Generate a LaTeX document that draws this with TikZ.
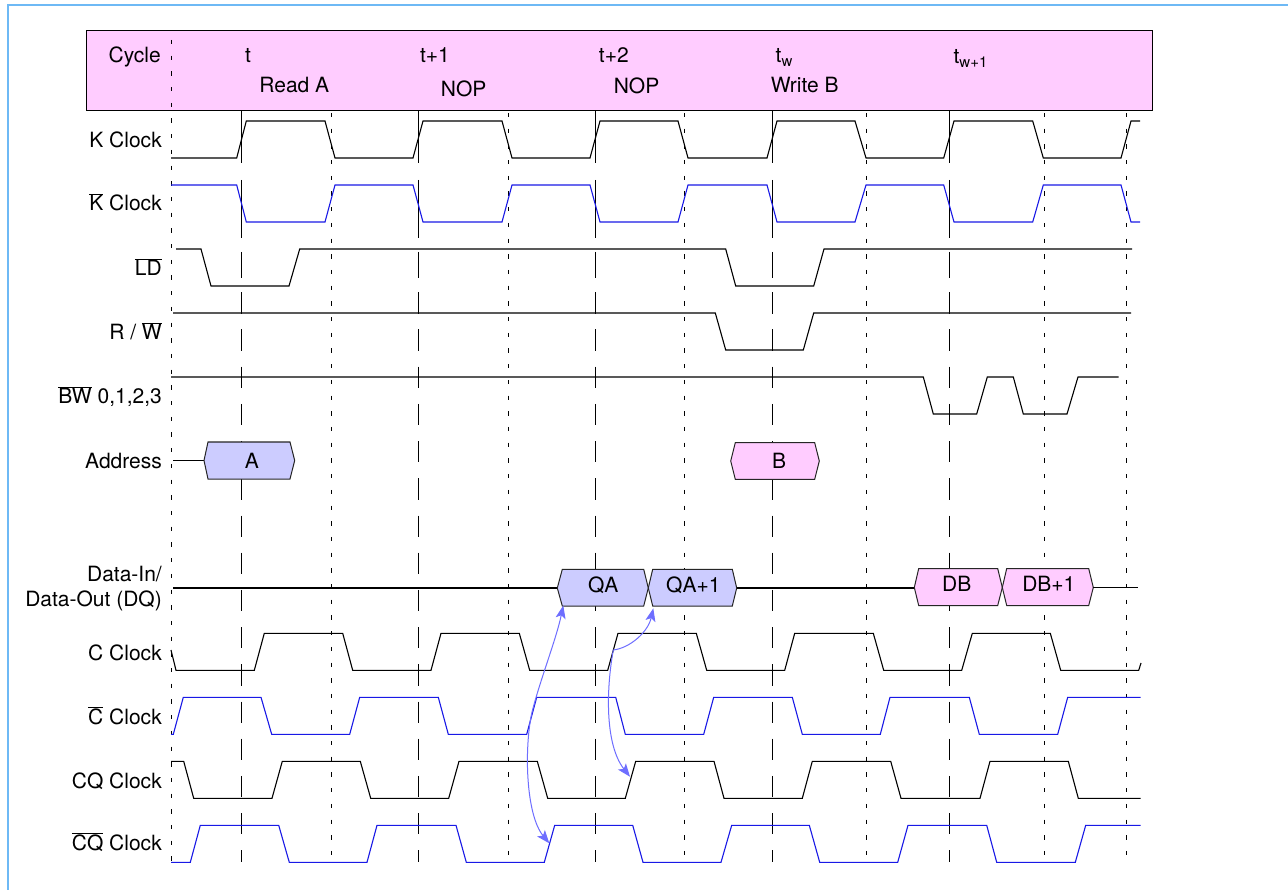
\documentclass[tikz,border=0pt]{standalone}
\usepackage{fontspec}
\setmainfont{TeX Gyre Heros}
\usetikzlibrary{arrows.meta}
\definecolor{frameblue}{RGB}{110,185,245}
\definecolor{hdrpink}{RGB}{255,204,255}
\definecolor{buslav}{RGB}{204,204,255}
\definecolor{sigblue}{RGB}{25,25,230}
\definecolor{arrowblue}{RGB}{110,110,255}
\newcommand{\ovl}[1]{$\overline{\mbox{#1}}$}
\newcommand{\subw}[1]{\raisebox{-4pt}{\fontsize{15}{15}\selectfont #1}}
\begin{document}
\begin{tikzpicture}[x=1pt,y=-1pt,
  lbl/.style={anchor=base east,inner sep=0pt,font=\fontsize{21}{24.5}\selectfont},
  txt/.style={anchor=base,inner sep=0pt,font=\fontsize{21}{24.5}\selectfont},
  sigk/.style={draw=black,line width=1.1pt},
  sigb/.style={draw=sigblue,line width=1.1pt},
  busa/.style={draw=black!85,line width=1pt,fill=buslav},
  busb/.style={draw=black!85,line width=1pt,fill=hdrpink},
  dotv/.style={black,line width=1pt,dash pattern=on 4.3pt off 11.4pt},
  longv/.style={black,line width=1pt,dash pattern=on 21.3pt off 15.9pt},
  solidv/.style={black,line width=1pt},
  causal/.style={draw=arrowblue,line width=1pt,-{Stealth[length=13pt,width=10pt,inset=3pt]}},
]
\useasboundingbox (0,0) rectangle (1288,890);
\fill[white] (0,0) rectangle (1288,890);
\draw[frameblue,line width=2pt] (7.5,890) -- (7.5,5) -- (1288,5);
\draw[fill=hdrpink,line width=1pt] (86,31) rectangle (1152,111);

% vertical reference lines
\draw[dotv] (171,40) -- (171,862);
\foreach \x in {331,508,684.7,866.3,1044.3,1126.3} \draw[dotv] (\x,113) -- (\x,862);
\foreach \x in {241,418.3,595.3,772.3,949.3} {
  \draw[solidv] (\x,111) -- (\x,163) (\x,180) -- (\x,238) (\x,252) -- (\x,278);
  \draw[longv] (\x,292.3) -- (\x,862);
}

% K Clock
\draw[sigk] (171,158) -- (236.7,158) -- (246.3,121) -- (325,121) -- (335,158) -- (413,158) -- (423,121) -- (502,121) -- (512,158) -- (590,158) -- (600,121) -- (678,121) -- (688,158) -- (767,158) -- (777,121) -- (855,121) -- (866,158) -- (943.7,158) -- (954,121) -- (1032.7,121) -- (1043.3,158) -- (1121,158) -- (1131,121) -- (1140,121);
% K bar Clock
\draw[sigb] (171,185) -- (236.7,185) -- (246.3,222) -- (325,222) -- (335,185) -- (413,185) -- (423,222) -- (502,222) -- (512,185) -- (590,185) -- (600,222) -- (678,222) -- (688,185) -- (767,185) -- (777,222) -- (855,222) -- (866,185) -- (943.7,185) -- (954,222) -- (1032.7,222) -- (1043.3,185) -- (1121,185) -- (1131,222) -- (1140,222);
% LD
\draw[sigk] (176,249) -- (201,249) -- (211,286) -- (289,286) -- (299.7,249) -- (725.7,249) -- (735.7,286) -- (813.7,286) -- (824,249) -- (1132,249);
% R/W
\draw[sigk] (173,313) -- (715.3,313) -- (725.7,350) -- (803.3,350) -- (813.7,313) -- (1131,313);
% BW
\draw[sigk] (171,377) -- (923.3,377) -- (933.3,414) -- (976.7,414) -- (987.3,377) -- (1013.3,377) -- (1023.3,414) -- (1067,414) -- (1078,377) -- (1118.7,377);

% Address bus
\draw[sigk] (173,460.5) -- (204,460.5);
\draw[busa] (204,460.5) -- (208,442) -- (290,442) -- (294.7,460.5) -- (290,479) -- (208,479) -- cycle;
\node[txt] (busA) at (252,468) {A};
\draw[busb] (730.7,461) -- (735.3,442.7) -- (814.7,442.7) -- (819.3,461) -- (814.7,479.3) -- (735.3,479.3) -- cycle;
\node[txt] (busB) at (779,468.3) {B};

% DQ bus
\draw[sigk] (173,588) -- (557.3,588);
\draw[busa] (557.3,588) -- (562.3,569.3) -- (643.7,569.3) -- (648.3,588) -- (643.7,606) -- (562.3,606) -- cycle;
\draw[busa] (648.3,588) -- (652.7,569.3) -- (732.3,569.3) -- (736.7,588) -- (732.3,606) -- (652.7,606) -- cycle;
\draw[sigk] (736.7,588) -- (914.3,588);
\draw[busb] (914.3,587.5) -- (918.7,568.5) -- (997.7,568.5) -- (1002.3,587.5) -- (997.7,605.5) -- (918.7,605.5) -- cycle;
\draw[busb] (1002.3,587.5) -- (1006.7,568.5) -- (1088.7,568.5) -- (1093.3,587.5) -- (1088.7,605.5) -- (1006.7,605.5) -- cycle;
\draw[sigk] (1093.3,587.5) -- (1138.3,587.5);
\node[txt] (qa) at (603.3,592.5) {QA};
\node[txt] (qa1) at (693.3,592.5) {QA+1};
\node[txt] (db) at (956.7,591.7) {DB};
\node[txt] (db1) at (1048.8,591.7) {DB+1};

% C Clock
\draw[sigk] (171,650) -- (176,670.3) -- (254.3,670.3) -- (264.3,633.3) -- (342.7,633.3) -- (352.7,670.3) -- (431,670.3) -- (441,633.3) -- (519.3,633.3) -- (529.7,670.3) -- (607.7,670.3) -- (618,633.3) -- (696.3,633.3) -- (706.7,670.3) -- (784.7,670.3) -- (794.7,633.3) -- (873.3,633.3) -- (883.7,670.3) -- (961.7,670.3) -- (972.3,633.3) -- (1050.3,633.3) -- (1060.7,670.3) -- (1138.7,670.3) -- (1141,663);
% C bar Clock
\draw[sigb] (171,734.3) -- (173.3,734.3) -- (183.3,697.3) -- (261,697.3) -- (271.7,734.3) -- (349.7,734.3) -- (359.7,697.3) -- (438.3,697.3) -- (448.3,734.3) -- (526.7,734.3) -- (536.7,697.3) -- (615.7,697.3) -- (625.3,734.3) -- (703.7,734.3) -- (713.7,697.3) -- (792.3,697.3) -- (802.3,734.3) -- (880.3,734.3) -- (890,697.3) -- (969.3,697.3) -- (979.3,734.3) -- (1057.7,734.3) -- (1067.7,697.3) -- (1140.7,697.3);
% CQ Clock
\draw[sigk] (171,761.3) -- (183.7,761.3) -- (193.7,798.3) -- (272,798.3) -- (282.3,761.3) -- (360.3,761.3) -- (370.7,798.3) -- (448.7,798.3) -- (459,761.3) -- (537.3,761.3) -- (547.7,798.3) -- (625.3,798.3) -- (635.7,761.3) -- (714,761.3) -- (724,798.3) -- (802.3,798.3) -- (812.3,761.3) -- (890.7,761.3) -- (901,798.3) -- (980,798.3) -- (990,761.3) -- (1068.3,761.3) -- (1078.3,798.3) -- (1140.7,798.3);
% CQ bar Clock
\draw[sigb] (171,862.3) -- (190.3,862.3) -- (200.3,825.3) -- (278.7,825.3) -- (289.3,862.3) -- (367,862.3) -- (377,825.3) -- (456,825.3) -- (466.3,862.3) -- (544.3,862.3) -- (554.7,825.3) -- (632.7,825.3) -- (643,862.3) -- (721,862.3) -- (731.7,825.3) -- (809.3,825.3) -- (819.7,862.3) -- (897.7,862.3) -- (908,825.3) -- (986.7,825.3) -- (996.7,862.3) -- (1075.3,862.3) -- (1085.7,825.3) -- (1140.7,825.3);

% causality arrows
\coordinate (j1) at (531.7,713.3);
\coordinate (qaTip) at (563.3,605.5);
\coordinate (cqbTip) at (549.3,843.3);
\coordinate (j2) at (613.3,650);
\coordinate (qa1Tip) at (653.3,608.3);
\coordinate (cqTip) at (630,776.7);
\draw[causal] (j1) .. controls (540,680) and (556,640) .. (qaTip);
\draw[causal] (j1) .. controls (524,750) and (526,815) .. (cqbTip);
\draw[causal] (j2) .. controls (630,648) and (648,632) .. (qa1Tip);
\draw[causal] (j2) .. controls (606,690) and (605,745) .. (cqTip);

% header texts
\node[lbl] (hcycle) at (161,62.5) {Cycle};
\node[txt] (ht) at (248,62.5) {t};
\node[txt] (hread) at (294.3,92.7) {Read A};
\node[txt] (ht1) at (435,62.5) {t+1};
\node[txt] (hnop1) at (463.7,96.7) {NOP};
\node[txt] (ht2) at (613.8,62.7) {t+2};
\node[txt] (hnop2) at (636.5,93.3) {NOP};
\node[txt] (htw) at (784,63) {t\subw{w}};
\node[txt] (hwrite) at (804.7,92.7) {Write B};
\node[txt] (htw1) at (970.5,63.3) {t\subw{w+1}};

% signal labels
\node[lbl] (lk) at (162,147.3) {K Clock};
\node[lbl] (lkb) at (162,211) {\ovl{K} Clock};
\node[lbl] (lld) at (162,276) {\ovl{LD}};
\node[lbl] (lrw) at (162,340) {R / \ovl{W}};
\node[lbl] (lbw) at (162,404) {\ovl{BW} 0,1,2,3};
\node[lbl] (laddr) at (162,468.3) {Address};
\node[lbl] (ldin) at (162,581.7) {Data-In/};
\node[lbl] (ldout) at (162,606.7) {Data-Out (DQ)};
\node[lbl] (lc) at (162,660) {C Clock};
\node[lbl] (lcb) at (162,724) {\ovl{C} Clock};
\node[lbl] (lcq) at (162,788.3) {CQ Clock};
\node[lbl] (lcqb) at (162,850.7) {\ovl{CQ} Clock};
\end{tikzpicture}
\end{document}
